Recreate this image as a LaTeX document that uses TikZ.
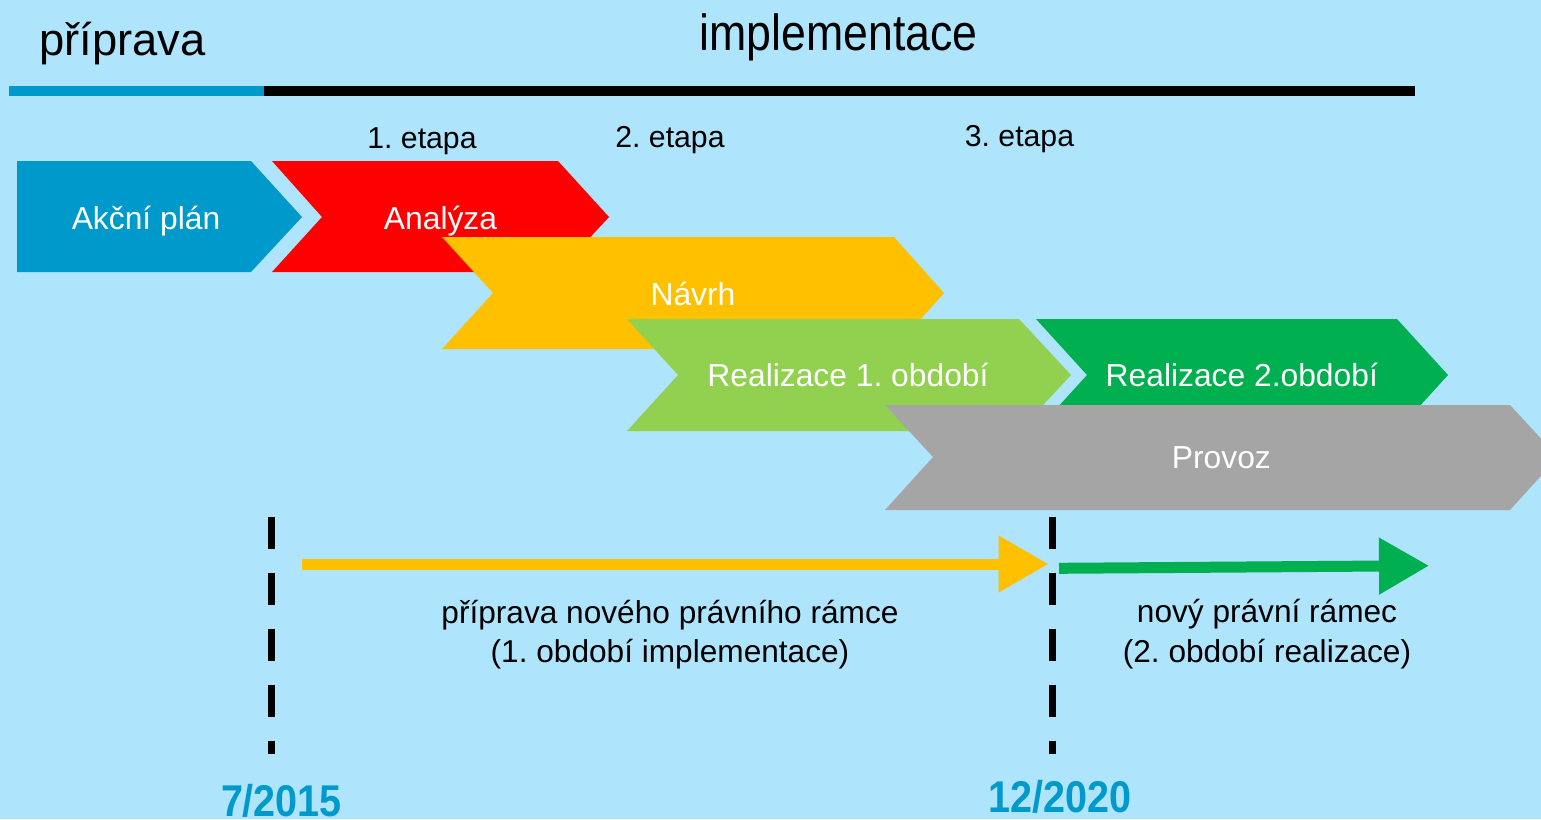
\documentclass[tikz,border=0pt]{standalone}
\usepackage{fontspec}
\setmainfont{Liberation Sans}
\usetikzlibrary{arrows.meta}
\frenchspacing
\definecolor{skyback}{RGB}{174,228,252}
\definecolor{akcniblue}{RGB}{0,153,204}
\definecolor{analyzared}{RGB}{255,0,0}
\definecolor{navrhyellow}{RGB}{255,192,0}
\definecolor{realonegreen}{RGB}{146,208,80}
\definecolor{realtwogreen}{RGB}{0,176,80}
\definecolor{provozgray}{RGB}{165,165,165}
\tikzset{
    phase-label/.style = {text=white, font=\fontsize{18.1pt}{21pt}\selectfont, anchor=base, inner sep=0pt},
    stage-label/.style = {text=black, font=\fontsize{17.2pt}{20pt}\selectfont, anchor=base, inner sep=0pt},
    note-label/.style = {text=black, font=\fontsize{18pt}{22.3pt}\selectfont, align=center, anchor=base, inner sep=0pt},
    date-label/.style = {text=akcniblue, font=\bfseries\fontsize{25.3pt}{30pt}\selectfont, anchor=base, inner sep=0pt},
    milestone/.style = {black, line width=0.14cm, dash pattern=on 0.64cm off 0.48cm},
    period-arrow/.style = {line width=0.22cm, -{Triangle[length=1cm, width=1.08cm]}},
}
\begin{document}
\begin{tikzpicture}[x=0.02cm, y=-0.02cm]
\fill[skyback] (0,0) rectangle (1541,819);
\useasboundingbox (0,0) rectangle (1541,819);

% headings and time bar
\node[anchor=base west, inner sep=0pt, font=\fontsize{25.8pt}{30pt}\selectfont] (priprava) at (39,55) {příprava};
\node[anchor=base, inner sep=0pt, font=\fontsize{28.9pt}{34pt}\selectfont] (implementace) at (838.5,50.7) {\scalebox{0.88}[1]{implementace}};
\coordinate (barstart) at (9,91);
\coordinate (barsplit) at (264,91);
\coordinate (barend) at (1415,91);
\draw[line width=0.21cm, akcniblue] (barstart) -- (barsplit);
\draw[line width=0.21cm, black] (barsplit) -- (barend);

\node[stage-label] (etapa1) at (422,148) {1. etapa};
\node[stage-label] (etapa2) at (670,147) {2. etapa};
\node[stage-label] (etapa3) at (1019.5,146) {3. etapa};

% phases
\fill[akcniblue] (17,161) -- (251,161) -- (302,217) -- (251,272) -- (17,272) -- cycle;
\fill[analyzared] (272,161) -- (558,161) -- (609,217) -- (558,272) -- (272,272) -- (322,217) -- cycle;
\fill[navrhyellow] (442,237) -- (894,237) -- (944,293) -- (894,349) -- (442,349) -- (493,293) -- cycle;
\fill[realonegreen] (627,319) -- (1019,319) -- (1071,375) -- (1019,431) -- (627,431) -- (678,375) -- cycle;
\fill[realtwogreen] (1036,319) -- (1397,319) -- (1448,375) -- (1397,431) -- (1036,431) -- (1087,375) -- cycle;
\fill[provozgray] (885,405) -- (1510,405) -- (1558,457) -- (1510,510) -- (885,510) -- (933,457) -- cycle;

\node[phase-label] (akcni) at (146,229.3) {Akční plán};
\node[phase-label] (analyza) at (440.5,229) {Analýza};
\node[phase-label] (navrh) at (693,305) {Návrh};
\node[phase-label] (realone) at (848,386.7) {Realizace 1. období};
\node[phase-label] (realtwo) at (1241.8,386) {Realizace 2.období};
\node[phase-label] (provoz) at (1221.4,468.3) {Provoz};

% milestones
\coordinate (ms2015top) at (271.5,517);
\coordinate (ms2015bot) at (271.5,754);
\coordinate (ms2020top) at (1052.5,517);
\coordinate (ms2020bot) at (1052.5,754);
\draw[milestone] (ms2015top) -- (ms2015bot);
\draw[milestone] (ms2020top) -- (ms2020bot);

\coordinate (prepfrom) at (302,564);
\coordinate (prepto) at (1048.5,564);
\coordinate (newfrom) at (1059,568.3);
\coordinate (newto) at (1429,565.7);
\draw[period-arrow, navrhyellow] (prepfrom) -- (prepto);
\draw[period-arrow, realtwogreen] (newfrom) -- (newto);

\node[note-label] (prepnote) at (670,662.5) {příprava nového právního rámce\\(1. období implementace)};
\node[note-label] (newnote) at (1267,662) {nový právní rámec\\(2. období realizace)};

\node[date-label] (d2015) at (281.5,816) {\scalebox{0.89}[1]{7/2015}};
\node[date-label] (d2020) at (1060,812) {\scalebox{0.89}[1]{12/2020}};
\end{tikzpicture}
\end{document}
